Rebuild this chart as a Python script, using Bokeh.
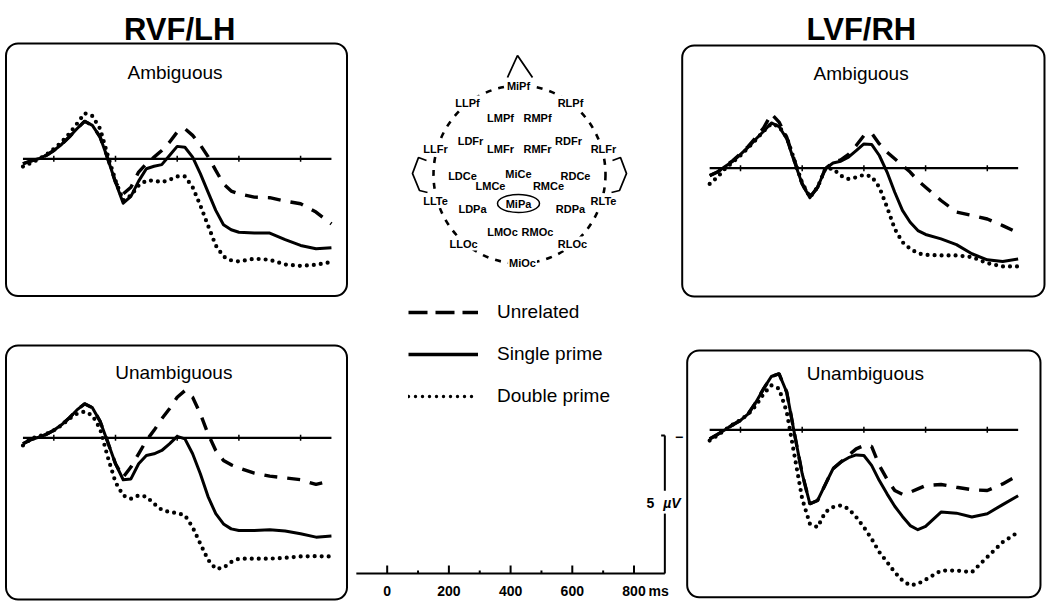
import numpy as np
from bokeh.plotting import figure
from bokeh.layouts import column, row
from bokeh.models import Range1d, BoxAnnotation, Label, Legend, LegendItem
from bokeh.core.properties import value
from bokeh.embed import file_html
from bokeh.resources import INLINE

FONT = "Liberation Sans"

# ---------------- data ----------------
MS = [-100, -75, -50, -25, 0, 25, 50, 75, 100, 125, 150, 175, 200, 225, 250, 275, 300,
      325, 350, 375, 400, 425, 450, 475, 500, 525, 550, 575, 600, 650, 700, 750, 800, 850, 900]

# RVF/LH  Ambiguous (microvolts)
RVF_AMB_UNRELATED = [-0.18, -0.08, 0, 0.12, 0.30, 0.52, 0.79, 1.09, 1.36, 1.21, 0.79, 0, -0.85, -1.27, -1.03,
                     -0.48, -0.18, 0.06, 0.30, 0.60, 0.97, 1.09, 0.85, 0.50, 0.08, -0.42, -0.91, -1.17, -1.27, -1.39,
                     -1.41, -1.53, -1.63, -1.93, -2.36]
RVF_AMB_SINGLE = [-0.18, -0.08, 0, 0.12, 0.30, 0.52, 0.79, 1.09, 1.36, 1.21, 0.79, 0, -0.85, -1.61, -1.36,
                  -0.81, -0.36, -0.27, -0.21, 0.12, 0.45, 0.42, 0.06, -0.54, -1.21, -1.87, -2.39, -2.57, -2.66, -2.69,
                  -2.69, -2.93, -3.14, -3.26, -3.22]
RVF_AMB_DOUBLE = [-0.28, -0.16, -0.02, 0.14, 0.36, 0.60, 0.91, 1.27, 1.65, 1.55, 1.09, 0.12, -0.79, -1.51, -1.33,
                  -0.97, -0.79, -0.79, -0.85, -0.76, -0.64, -0.64, -1.03, -1.69, -2.42, -3.14, -3.54, -3.68, -3.72, -3.62,
                  -3.66, -3.83, -3.88, -3.84, -3.74]

# RVF/LH  Unambiguous
RVF_UNA_UNRELATED = [-0.22, -0.07, 0.02, 0.12, 0.27, 0.47, 0.72, 1.01, 1.23, 1.09, 0.60, -0.16, -0.94, -1.43, -1.06,
                     -0.58, -0.10, 0.27, 0.69, 1.05, 1.47, 1.71, 1.47, 0.87, 0.14, -0.46, -0.82, -0.98, -1.09, -1.28,
                     -1.39, -1.45, -1.52, -1.69, -1.55]
RVF_UNA_SINGLE = [-0.22, -0.07, 0.02, 0.12, 0.27, 0.47, 0.72, 1.01, 1.23, 1.09, 0.60, -0.16, -0.94, -1.52, -1.49,
                  -0.94, -0.64, -0.58, -0.46, -0.22, 0.05, -0.04, -0.58, -1.30, -2.13, -2.75, -3.12, -3.30, -3.36, -3.36,
                  -3.33, -3.38, -3.48, -3.60, -3.56]
RVF_UNA_DOUBLE = [-0.28, -0.04, 0.05, 0.14, 0.27, 0.45, 0.69, 0.87, 0.95, 0.81, 0.33, -0.70, -1.61, -2.09, -2.21,
                  -2.09, -2.13, -2.39, -2.61, -2.69, -2.73, -2.81, -3.24, -3.84, -4.42, -4.75, -4.71, -4.50, -4.38, -4.38,
                  -4.38, -4.35, -4.30, -4.29, -4.30]

# LVF/RH  Ambiguous
LVF_AMB_UNRELATED = [-0.27, -0.14, 0.06, 0.28, 0.52, 0.79, 1.12, 1.46, 1.97, 1.67, 1.12, 0.28, -0.57, -1.05, -0.69,
                     -0.02, 0.22, 0.30, 0.50, 0.82, 1.18, 1.27, 0.88, 0.58, 0.34, 0.10, -0.14, -0.45, -0.69, -1.17,
                     -1.59, -1.71, -1.84, -2.08, -2.34]
LVF_AMB_SINGLE = [-0.27, -0.14, 0.06, 0.25, 0.50, 0.76, 1.06, 1.34, 1.64, 1.51, 1.06, 0.22, -0.57, -1.07, -0.69,
                  -0.02, 0.19, 0.25, 0.40, 0.64, 0.88, 0.86, 0.46, -0.14, -0.87, -1.53, -1.96, -2.26, -2.40, -2.56,
                  -2.77, -3.10, -3.32, -3.38, -3.29]
LVF_AMB_DOUBLE = [-0.57, -0.33, -0.02, 0.22, 0.46, 0.74, 1.03, 1.34, 1.61, 1.51, 1.12, 0.28, -0.54, -1.05, -0.69,
                  -0.02, -0.02, -0.27, -0.39, -0.33, -0.24, -0.30, -0.69, -1.41, -2.20, -2.68, -2.92, -3.08, -3.14, -3.16,
                  -3.16, -3.22, -3.44, -3.56, -3.56]

# LVF/RH  Unambiguous
LVF_UNA_UNRELATED = [-0.33, -0.17, 0, 0.18, 0.34, 0.58, 1.00, 1.49, 1.93, 2.03, 1.36, -0.14, -1.59, -2.68, -2.56,
                     -1.98, -1.41, -1.17, -0.93, -0.69, -0.57, -0.60, -1.29, -1.79, -2.20, -2.34, -2.26, -2.14, -2.02, -1.98,
                     -2.08, -2.17, -2.20, -1.96, -1.65]
LVF_UNA_SINGLE = [-0.33, -0.17, 0, 0.18, 0.34, 0.58, 1.00, 1.49, 1.93, 2.03, 1.36, -0.14, -1.59, -2.68, -2.56,
                  -1.98, -1.41, -1.17, -1.01, -0.91, -0.93, -1.29, -1.84, -2.32, -2.77, -3.14, -3.47, -3.62, -3.50, -2.98,
                  -3.02, -3.16, -3.04, -2.71, -2.39]
LVF_UNA_DOUBLE = [-0.39, -0.21, 0, 0.19, 0.36, 0.56, 0.88, 1.30, 1.61, 1.49, 0.64, -0.93, -2.50, -3.41, -3.53,
                  -2.98, -2.80, -2.74, -2.86, -3.16, -3.53, -3.95, -4.43, -4.79, -5.16, -5.46, -5.64, -5.58, -5.43, -5.10,
                  -5.10, -5.16, -4.61, -4.07, -3.71]

BASELINE_TICKS = [0, 200, 400, 600, 800]
AXIS_TICKS = [0, 200, 400, 600, 800]
AXIS_MINOR = [100, 300, 500, 700]
AXIS_START = -100
SCALE_UV = 5
SCALE_MS = 900

LEGEND_LABELS = ["Unrelated", "Single prime", "Double prime"]

# electrode map (head-centred units, y up)
ELEC_OUTER = ["MiPf", "LLPf", "RLPf", "LLFr", "RLFr", "LLTe", "RLTe", "LLOc", "RLOc", "MiOc"]
ELEC_OUTER_X = [-1, -52, 51, -84, 84, -84, 84, -56, 53, 3]
ELEC_OUTER_Y = [90, 73, 73, 27, 27, -25, -25, -68, -68, -87]
ELEC_INNER = ["LMPf", "RMPf", "LDFr", "RDFr", "LMFr", "RMFr", "LDCe", "RDCe", "MiCe",
              "LMCe", "RMCe", "LDPa", "RDPa", "MiPa", "LMOc", "RMOc"]
ELEC_INNER_X = [-19, 18, -49, 49, -19, 18, -57, 56, -1, -29, 29, -47, 51, -1, -17, 18]
ELEC_INNER_Y = [58, 58, 35, 35, 27, 27, 0, 0, 2, -10, -10, -33, -33, -28, -56, -56]

# ---------------- styles ----------------
DASH_UNREL = "13 10"
DOT_DOUBLE = "0 7"


def base_fig(width, height, xr, yr):
    p = figure(width=width, height=height, x_range=Range1d(*xr), y_range=Range1d(*yr),
               output_backend="svg", toolbar_location=None,
               x_axis_location=None, y_axis_location=None, min_border=0, title=None)
    p.grid.visible = False
    p.outline_line_color = None
    p.background_fill_color = "white"
    p.border_fill_color = "white"
    return p


def waveform_panel(width, height, xr, yr, box, unrel, single, double,
                   sub_text, sub_xy, title=None, title_xy=None):
    p = base_fig(width, height, xr, yr)
    p.add_layout(BoxAnnotation(left=box[0], right=box[1], bottom=box[2], top=box[3],
                               fill_alpha=0, line_color="black", line_alpha=1.0,
                               line_width=2, border_radius=12))
    p.line([MS[0], MS[-1]], [0, 0], line_color="black", line_width=2.2)
    p.scatter(BASELINE_TICKS, [0] * len(BASELINE_TICKS), marker="dash", angle=np.pi / 2,
              size=6, line_color="black", line_width=1.5)
    p.line(MS, unrel, line_color="black", line_width=3.4, line_dash=DASH_UNREL)
    p.line(MS, single, line_color="black", line_width=3, line_join="round")
    p.line(MS, double, line_color="black", line_width=4.2, line_dash=DOT_DOUBLE, line_cap="round")
    p.add_layout(Label(x=sub_xy[0], y=sub_xy[1], text=sub_text, text_font=FONT,
                       text_font_size="19px", text_align="center", text_baseline="middle",
                       text_color="black"))
    if title:
        p.add_layout(Label(x=title_xy[0], y=title_xy[1], text=title, text_font=FONT,
                           text_font_size="31px", text_font_style="bold", text_align="center",
                           text_baseline="alphabetic", text_color="black"))
    return p


tl = waveform_panel(348, 302, (-172.8, 955.3), (-5.207, 5.736), (-154.9, 950.4, -4.97, 4.178),
                    RVF_AMB_UNRELATED, RVF_AMB_SINGLE, RVF_AMB_DOUBLE,
                    "Ambiguous", (393, 3.14), "RVF/LH", (408, 4.674))
tr = waveform_panel(372, 302, (-207.5, 998.4), (-4.866, 6.076), (-189.0, 985.4, -4.649, 4.446),
                    LVF_AMB_UNRELATED, LVF_AMB_SINGLE, LVF_AMB_DOUBLE,
                    "Ambiguous", (391, 3.42), "LVF/RH", (392, 5.014))
bl = waveform_panel(348, 301, (-172.8, 955.3), (-6.004, 4.902), (-154.9, 950.4, -5.86, 3.344),
                    RVF_UNA_UNRELATED, RVF_UNA_SINGLE, RVF_UNA_DOUBLE,
                    "Unambiguous", (389, 2.38))
br = waveform_panel(364, 301, (-181.5, 998.4), (-6.293, 4.612), (-172.8, 972.4, -6.065, 2.873),
                    LVF_UNA_UNRELATED, LVF_UNA_SINGLE, LVF_UNA_DOUBLE,
                    "Unambiguous", (405, 2.03))

# ---------------- head map ----------------
head = base_fig(328, 302, (-171, 157), (-127, 175))
HEAD_C = (0, 1)
HEAD_W, HEAD_H = 172, 178
head.ellipse(x=[HEAD_C[0]], y=[HEAD_C[1]], width=[HEAD_W], height=[HEAD_H], fill_color=None,
             line_color="black", line_width=2.6, line_dash="6 7")
NOSE_X, NOSE_Y = [-12, -2, 13], [98, 120, 98]
head.line(NOSE_X, NOSE_Y, line_color="black", line_width=1.8)
EAR_X = [-93, -101, -107, -100, -92]
EAR_Y = [15, 18, 2, -15, -17]
head.line(EAR_X, EAR_Y, line_color="black", line_width=1.8)
head.line([-v for v in EAR_X], EAR_Y, line_color="black", line_width=1.8)
head.text(ELEC_INNER_X, ELEC_INNER_Y, text=ELEC_INNER, text_font=value(FONT), text_font_size="11px",
          text_font_style="bold", text_align="center", text_baseline="middle", text_color="black")
head.text(ELEC_OUTER_X, ELEC_OUTER_Y, text=ELEC_OUTER, text_font=value(FONT), text_font_size="11px",
          text_font_style="bold", text_align="center", text_baseline="middle", text_color="black",
          background_fill_color="white", padding=1)
head.ellipse(x=[ELEC_INNER_X[13]], y=[ELEC_INNER_Y[13]], width=[42], height=[18], fill_color=None,
             line_color="black", line_width=1.5)

# ---------------- legend + scale ----------------
mid = base_fig(336, 301, (-125.4, 963.7), (-1.087, 9.819))
MAJOR_TICK_UV = 0.29
MINOR_TICK_UV = 0.11
LABEL_BASE_UV = -0.616
mid.segment(x0=[AXIS_START], y0=[0], x1=[SCALE_MS], y1=[0], line_color="black", line_width=2)
mid.segment(x0=AXIS_TICKS, y0=[0] * len(AXIS_TICKS), x1=AXIS_TICKS, y1=[MAJOR_TICK_UV] * len(AXIS_TICKS),
            line_color="black", line_width=2)
mid.segment(x0=AXIS_MINOR, y0=[0] * len(AXIS_MINOR), x1=AXIS_MINOR, y1=[MINOR_TICK_UV] * len(AXIS_MINOR),
            line_color="black", line_width=2)
mid.text(x=AXIS_TICKS, y=[LABEL_BASE_UV] * len(AXIS_TICKS), text=[str(t) for t in AXIS_TICKS],
         text_font=value(FONT), text_font_size="14px", text_font_style="bold",
         text_align="center", text_baseline="alphabetic", text_color="black")
mid.add_layout(Label(x=847, y=LABEL_BASE_UV, text="ms", text_font=FONT, text_font_size="14px",
                     text_font_style="bold", text_align="left", text_baseline="alphabetic",
                     text_color="black"))

mid.segment(x0=[SCALE_MS, SCALE_MS, SCALE_MS - 12], y0=[0, 3.0, SCALE_UV],
            x1=[SCALE_MS, SCALE_MS, SCALE_MS], y1=[2.17, SCALE_UV, SCALE_UV],
            line_color="black", line_width=2)
mid.add_layout(Label(x=866, y=2.54, text=str(SCALE_UV), text_font=FONT, text_font_size="14px",
                     text_font_style="bold", text_align="right", text_baseline="middle",
                     text_color="black"))
mid.add_layout(Label(x=895, y=2.54, text="\u00b5V", text_font=FONT, text_font_size="14px",
                     text_font_style="bold italic", text_align="left", text_baseline="middle",
                     text_color="black"))
mid.add_layout(Label(x=946, y=4.96, text="\u2212", text_font=FONT, text_font_size="14px",
                     text_font_style="bold", text_align="center", text_baseline="middle",
                     text_color="black"))

NAN = np.array([np.nan])
r_un = mid.line(x=NAN, y=NAN, line_color="black", line_width=3.5, line_dash="19 8")
r_si = mid.line(x=NAN, y=NAN, line_color="black", line_width=3.5)
r_do = mid.line(x=NAN, y=NAN, line_color="black", line_width=3.4, line_dash="0 7", line_cap="round")
legend = Legend(items=[LegendItem(label=LEGEND_LABELS[0], renderers=[r_un]),
                       LegendItem(label=LEGEND_LABELS[1], renderers=[r_si]),
                       LegendItem(label=LEGEND_LABELS[2], renderers=[r_do])],
                location=(60, 196), orientation="vertical", glyph_width=70, glyph_height=20,
                label_height=20, spacing=20, padding=0, margin=0, label_standoff=19,
                border_line_color=None, background_fill_alpha=0,
                label_text_font=FONT, label_text_font_size="19px", label_text_color="black")
mid.add_layout(legend)

layout = column(row(tl, head, tr), row(bl, mid, br))

open("out.html", "w").write(file_html(layout, INLINE, title="ERP priming"))
